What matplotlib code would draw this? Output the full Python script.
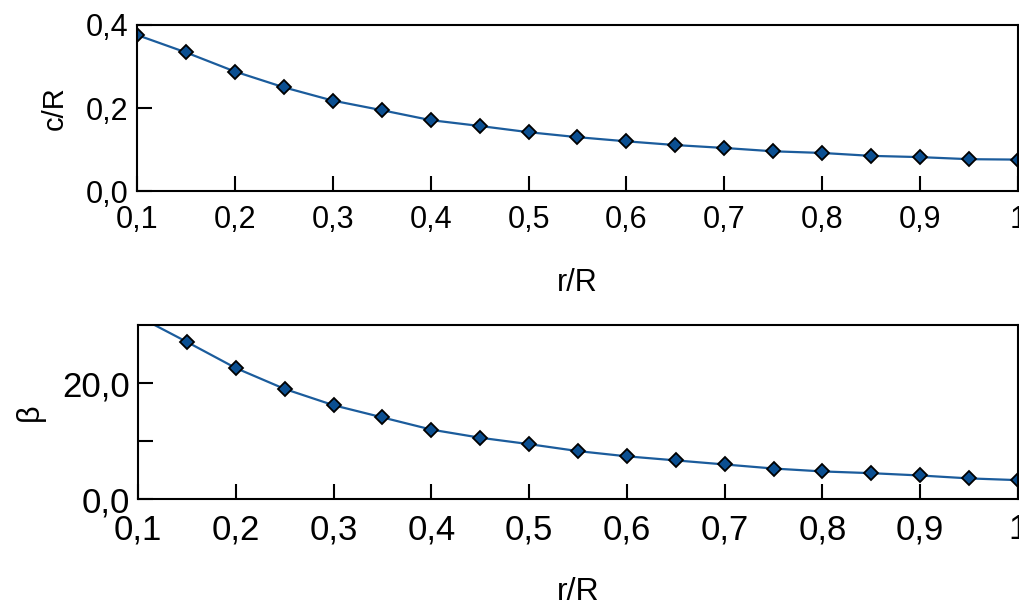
import matplotlib
matplotlib.use('Agg')
import matplotlib.pyplot as plt
from matplotlib.ticker import FixedLocator, FuncFormatter

plt.rcParams['font.family'] = ['Liberation Sans', 'DejaVu Sans']

# r/R stations
r_R = [0.10, 0.15, 0.20, 0.25, 0.30, 0.35, 0.40, 0.45, 0.50, 0.55,
       0.60, 0.65, 0.70, 0.75, 0.80, 0.85, 0.90, 0.95, 1.00]
# chord c/R
c_R = [0.376, 0.334, 0.288, 0.250, 0.218, 0.195, 0.171, 0.157, 0.142, 0.130,
       0.120, 0.111, 0.104, 0.096, 0.092, 0.085, 0.082, 0.077, 0.076]
# twist beta
beta = [31.5, 27.1, 22.6, 19.0, 16.2, 14.1, 12.0, 10.6, 9.5, 8.3,
        7.4, 6.7, 6.0, 5.3, 4.8, 4.5, 4.1, 3.6, 3.3]

x_ticks = [0.1, 0.2, 0.3, 0.4, 0.5, 0.6, 0.7, 0.8, 0.9, 1.0]

line_col = '#1b5c9c'
mark_col = '#0b4f91'


def xfmt(v, pos):
    if abs(v - 1.0) < 1e-9:
        return '1'
    return ('%.1f' % v).replace('.', ',')


fig = plt.figure(figsize=(10.2, 6.05), dpi=100)
ax1 = fig.add_axes([0.1343, 0.684, 0.8637, 0.2747])
ax2 = fig.add_axes([0.1353, 0.1747, 0.8627, 0.288])

# top panel uses slightly smaller text than the bottom one
sizes = {ax1: (22, 22, 24), ax2: (25, 23, 22)}

for ax, y in ((ax1, c_R), (ax2, beta)):
    tick_fs, lab_fs, lpad = sizes[ax]
    ax.plot(r_R, y, color=line_col, lw=1.6, marker='D', ms=7.5,
            mfc=mark_col, mec='black', mew=1.3, clip_on=True)
    ax.set_xlim(0.1, 1.0)
    ax.xaxis.set_major_locator(FixedLocator(x_ticks))
    ax.xaxis.set_major_formatter(FuncFormatter(xfmt))
    ax.tick_params(direction='in', length=11, width=1.5, labelsize=tick_fs)
    ax.tick_params(axis='x', pad=10)
    ax.tick_params(axis='y', pad=6)
    ax.tick_params(which='minor', direction='in', length=11, width=1.5)
    for s in ax.spines.values():
        s.set_linewidth(1.5)
    ax.set_xlabel('r/R', fontsize=lab_fs, labelpad=lpad)

ax1.set_ylim(0, 0.4)
ax1.yaxis.set_major_locator(FixedLocator([0, 0.2, 0.4]))
ax1.yaxis.set_major_formatter(FuncFormatter(
    lambda v, p: ('%.1f' % v).replace('.', ',')))
ax1.set_ylabel('c/R', fontsize=21, labelpad=12)

ax2.set_ylim(0, 30)
ax2.yaxis.set_major_locator(FixedLocator([0, 20]))
ax2.yaxis.set_minor_locator(FixedLocator([10]))
ax2.yaxis.set_major_formatter(FuncFormatter(
    lambda v, p: ('%.1f' % v).replace('.', ',')))
ax2.set_ylabel('β', fontsize=22, labelpad=12)

fig.savefig('out.png', dpi=100)
